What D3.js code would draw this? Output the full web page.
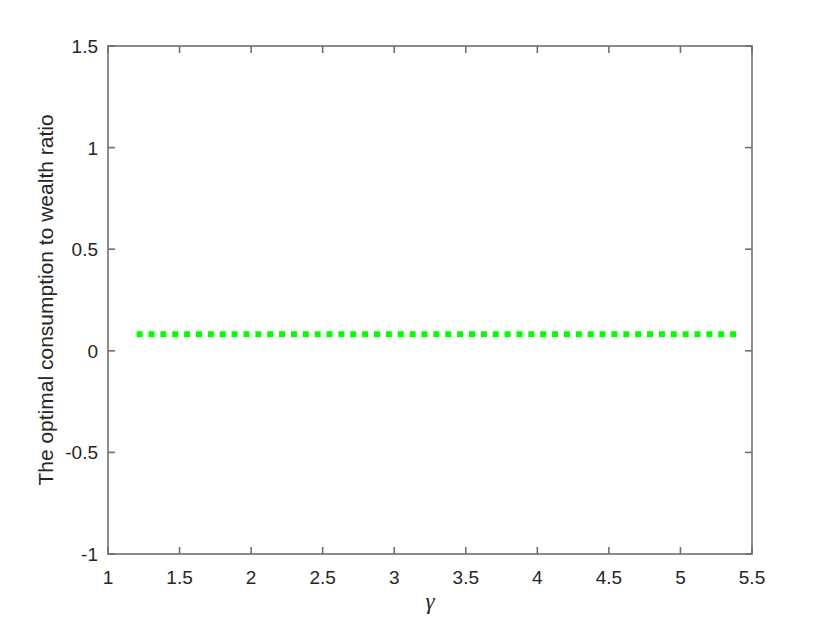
<!DOCTYPE html>
<html>
<head>
<meta charset="utf-8">
<script src="https://cdn.jsdelivr.net/npm/d3@7"></script>
<style>
  body { margin: 0; background: #fff; }
  text { font-family: "Liberation Sans", Arial, sans-serif; fill: #262626; }
</style>
</head>
<body>
<div id="chart"></div>
<script>
// data
var gamma = [1.2, 1.4, 1.6, 1.8, 2.0, 2.2, 2.4, 2.6, 2.8, 3.0, 3.2, 3.4, 3.6, 3.8, 4.0, 4.2, 4.4, 4.6, 4.8, 5.0, 5.2, 5.4];
var ratio = [0.081, 0.081, 0.081, 0.081, 0.081, 0.081, 0.081, 0.081, 0.081, 0.081, 0.081, 0.081, 0.081, 0.081, 0.081, 0.081, 0.081, 0.081, 0.081, 0.081, 0.081, 0.081];
var xTicks = [1, 1.5, 2, 2.5, 3, 3.5, 4, 4.5, 5, 5.5];
var yTicks = [-1, -0.5, 0, 0.5, 1, 1.5];

var W = 830, H = 623;
var plotL = 108, plotR = 752, plotT = 46, plotB = 554;
var tickLen = 7;
var axisCol = "#707070";

var svg = d3.select("#chart").append("svg").attr("width", W).attr("height", H);

var x = d3.scaleLinear().domain([1, 5.5]).range([plotL, plotR]);
var y = d3.scaleLinear().domain([-1, 1.5]).range([plotB, plotT]);

var pts = gamma.map(function(g, i) { return [g, ratio[i]]; });

// dotted series
var line = d3.line()
    .x(function(d) { return x(d[0]); })
    .y(function(d) { return y(d[1]); });

svg.append("path")
    .datum(pts)
    .attr("d", line)
    .attr("fill", "none")
    .attr("stroke", "#00ff00")
    .attr("stroke-width", 6)
    .attr("stroke-dasharray", "6,5.87")
    .attr("stroke-linecap", "butt");

// axes box
var g = svg.append("g").attr("stroke", axisCol).attr("stroke-width", 1.6).attr("fill", "none");
g.append("rect").attr("x", plotL).attr("y", plotT).attr("width", plotR - plotL).attr("height", plotB - plotT);

// ticks on all four sides, pointing inward
xTicks.forEach(function(t) {
  g.append("line").attr("x1", x(t)).attr("x2", x(t)).attr("y1", plotB).attr("y2", plotB - tickLen);
  g.append("line").attr("x1", x(t)).attr("x2", x(t)).attr("y1", plotT).attr("y2", plotT + tickLen);
});
yTicks.forEach(function(t) {
  g.append("line").attr("x1", plotL).attr("x2", plotL + tickLen).attr("y1", y(t)).attr("y2", y(t));
  g.append("line").attr("x1", plotR).attr("x2", plotR - tickLen).attr("y1", y(t)).attr("y2", y(t));
});

// tick labels
svg.selectAll(".xlab")
  .data(xTicks)
  .enter().append("text")
    .attr("class", "xlab")
    .attr("x", function(d) { return x(d); })
    .attr("y", plotB + 30)
    .attr("text-anchor", "middle")
    .attr("font-size", "19px")
    .text(function(d) { return d; });

svg.selectAll(".ylab")
  .data(yTicks)
  .enter().append("text")
    .attr("class", "ylab")
    .attr("x", plotL - 10)
    .attr("y", function(d) { return y(d) + 7; })
    .attr("text-anchor", "end")
    .attr("font-size", "19px")
    .text(function(d) { return d; });

// axis titles
svg.append("text")
    .attr("transform", "translate(53," + ((plotT + plotB) / 2) + ") rotate(-90)")
    .attr("text-anchor", "middle")
    .attr("font-size", "21px")
    .text("The optimal consumption to wealth ratio");

svg.append("text")
    .attr("x", (plotL + plotR) / 2)
    .attr("y", plotB + 55)
    .attr("text-anchor", "middle")
    .style("font-family", "'Liberation Serif', 'Times New Roman', serif")
    .style("font-style", "italic")
    .attr("font-size", "23px")
    .text("γ");
</script>
</body>
</html>
